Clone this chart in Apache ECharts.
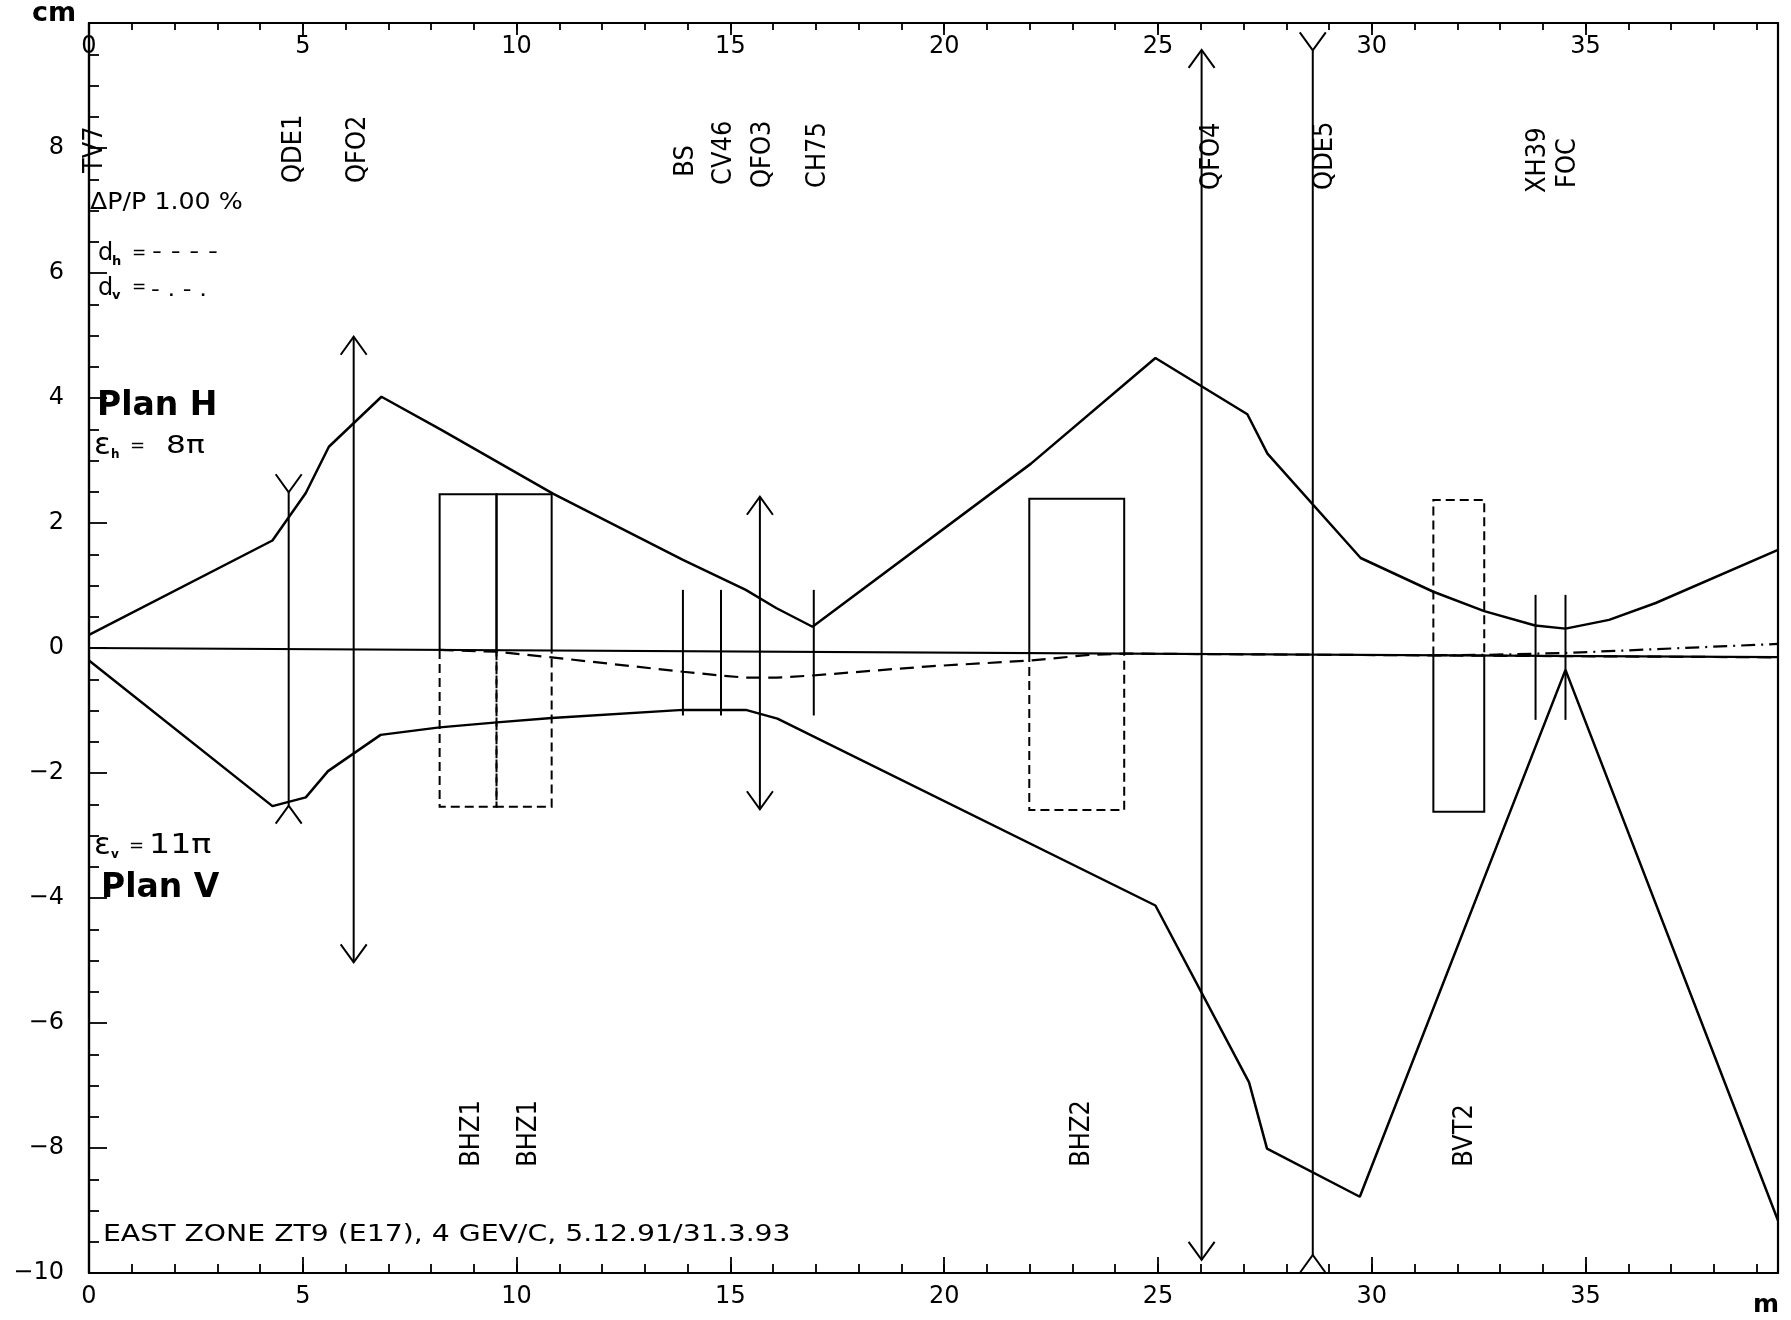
<!DOCTYPE html>
<html>
<head>
<meta charset="utf-8">
<script src="https://cdn.jsdelivr.net/npm/echarts@6/dist/echarts.min.js"></script>
<style>
html,body{margin:0;padding:0;background:#fff;}
#chart{width:1791px;height:1320px;}
</style>
</head>
<body>
<div id="chart"></div>
<script>
// ---------- data ----------
const upperEnvelope = [
  [0, 0.21], [4.29, 1.72], [5.07, 2.48], [5.61, 3.22], [6.84, 4.02], [8.24, 3.49],
  [10.85, 2.47], [13.89, 1.41], [15.36, 0.93], [16.07, 0.64], [16.92, 0.34],
  [22.03, 2.95], [24.94, 4.64], [27.09, 3.74], [27.56, 3.11], [29.74, 1.44],
  [31.44, 0.90], [32.63, 0.59], [33.82, 0.36], [34.53, 0.31], [35.55, 0.45],
  [36.64, 0.72], [39.5, 1.57]
];
const lowerEnvelope = [
  [0, -0.20], [4.29, -2.53], [5.07, -2.39], [5.59, -1.97], [6.82, -1.39], [8.2, -1.27],
  [9.54, -1.19], [10.82, -1.12], [13.89, -0.99], [15.36, -0.99], [16.1, -1.13],
  [24.94, -4.12], [27.13, -6.95], [27.55, -8.01], [29.72, -8.78], [34.53, -0.35],
  [39.5, -9.16]
];
const orbitLine = [[0, 0], [39.5, -0.145]];
const dispersionH = [
  [8.2, -0.03], [9.53, -0.06], [10.82, -0.15], [13.89, -0.38], [14.78, -0.44],
  [15.36, -0.475], [16.07, -0.475], [16.92, -0.44], [18.95, -0.33], [19.73, -0.29],
  [22.03, -0.20], [23.39, -0.11], [24.21, -0.09], [39.5, -0.15]
];
const dispersionV = [[31.44, -0.115], [32.63, -0.11], [34.53, -0.08], [39.5, 0.065]];

// quadrupoles: F = focusing (arrows), D = defocusing (forks)
const quadX      = [4.67, 6.19, 15.69, 26.02, 28.62];
const quadTop    = [2.78, 4.98, 2.42, 9.57, 9.85];
const quadBottom = [-2.81, -5.03, -2.58, -9.79, -10.0];
const quadType   = ['D', 'F', 'F', 'F', 'D'];

// thin elements (monitors / correctors)
const monitorX      = [13.89, 14.78, 16.95, 33.83, 34.53];
const monitorTop    = [0.93, 0.93, 0.93, 0.85, 0.85];
const monitorBottom = [-1.08, -1.08, -1.08, -1.15, -1.15];

// bending magnets
const bendStart  = [8.2, 9.53, 21.99, 31.44];
const bendEnd    = [9.53, 10.82, 24.21, 32.63];
const bendTop    = [2.46, 2.46, 2.39, 2.37];
const bendMid    = [-0.03, -0.05, -0.08, -0.12];
const bendBottom = [-2.54, -2.54, -2.59, -2.62];
const bendPlane  = ['H', 'H', 'H', 'V'];

// element names
const topLabels  = ['TV7', 'QDE1', 'QFO2', 'BS', 'CV46', 'QFO3', 'CH75', 'QFO4', 'QDE5', 'XH39', 'FOC'];
const topLabelX  = [0.14, 4.8, 6.3, 13.96, 14.86, 15.77, 17.06, 26.28, 28.92, 33.9, 34.6];
const topLabelY  = [7.6, 7.44, 7.44, 7.54, 7.41, 7.36, 7.36, 7.33, 7.33, 7.28, 7.36];
const bottomLabels = ['BHZ1', 'BHZ1', 'BHZ2', 'BVT2'];
const bottomLabelX = [8.97, 10.3, 23.23, 32.18];
const bottomLabelY = [-8.3, -8.3, -8.3, -8.3];

// axes
const xMin = 0, xMax = 39.5, xMajor = 5, xMinor = 1;
const yMin = -10, yMax = 10, yMajor = 2;

// ---------- chart ----------
const FONT = '"DejaVu Sans", "Liberation Sans", sans-serif';
const BLACK = '#000';
const chart = echarts.init(document.getElementById('chart'), null, {renderer: 'canvas'});

function fmtY(v) {
  if (v >= yMax) return '';
  return v < 0 ? '\u2212' + Math.abs(v) : String(v);
}
function xAxisDef(position, interval, tickLen, withLabels, inside) {
  return {
    type: 'value', position: position, min: xMin, max: xMax, interval: interval,
    axisLine: {show: false, onZero: false},
    axisTick: {show: true, inside: true, length: tickLen, lineStyle: {color: BLACK, width: 1.8}},
    axisLabel: withLabels ? {
      show: true, inside: inside, margin: inside ? 12 : 12, color: BLACK, fontSize: 24, fontFamily: FONT,
      formatter: function (v) { return (Math.abs(v % xMajor) < 1e-9) ? String(v) : ''; }
    } : {show: false},
    splitLine: {show: false}
  };
}
const lineStyleBase = {color: BLACK, width: 2.5};
const elemStyle = {stroke: BLACK, lineWidth: 2, fill: null};

function textEl(text, x, y, size, opt) {
  opt = opt || {};
  return {
    type: 'text', x: x, y: y, scaleX: opt.sx || 1, silent: true,
    style: {
      text: text, fill: BLACK,
      font: (opt.bold ? 'bold ' : '') + size + 'px ' + FONT,
      align: 'left', verticalAlign: 'middle', textAlign: 'left', textVerticalAlign: 'middle'
    }
  };
}
function rotatedLabel(names) {
  return function (params, api) {
    const pt = api.coord([api.value(0), api.value(1)]);
    return {type: 'text', x: pt[0], y: pt[1], rotation: Math.PI / 2, scaleX: 0.93,
      style: {text: names[params.dataIndex], fill: BLACK, font: '26px ' + FONT,
        align: 'left', verticalAlign: 'middle', textAlign: 'left', textVerticalAlign: 'middle'}};
  };
}

const option = {
  animation: false,
  backgroundColor: '#fff',
  textStyle: {fontFamily: FONT},
  grid: {left: 89, right: 13, top: 23, bottom: 47, show: true, borderColor: BLACK, borderWidth: 2.2, backgroundColor: 'transparent'},
  xAxis: [
    xAxisDef('bottom', xMinor, 9, false, false),
    xAxisDef('bottom', xMajor, 16, true, false),
    xAxisDef('top', xMinor, 7, false, true),
    xAxisDef('top', xMajor, 12, true, true)
  ],
  yAxis: [{
    type: 'value', position: 'left', min: yMin, max: yMax, interval: yMajor,
    axisLine: {show: true, onZero: false, lineStyle: {color: BLACK, width: 2.2}},
    axisTick: {show: true, inside: true, length: 18, lineStyle: {color: BLACK, width: 1.8}},
    minorTick: {show: true, splitNumber: 4, length: 10, lineStyle: {color: BLACK, width: 1.8}},
    axisLabel: {margin: 25, color: BLACK, fontSize: 24, fontFamily: FONT, formatter: fmtY},
    splitLine: {show: false}
  }],
  series: [
    {type: 'line', name: 'orbit', data: orbitLine, symbol: 'none', silent: true, lineStyle: {color: BLACK, width: 2.2}},
    {type: 'line', name: 'Plan H', data: upperEnvelope, symbol: 'none', silent: true, lineStyle: lineStyleBase},
    {type: 'line', name: 'Plan V', data: lowerEnvelope, symbol: 'none', silent: true, lineStyle: lineStyleBase},
    {type: 'line', name: 'dh', data: dispersionH, symbol: 'none', silent: true, lineStyle: {color: BLACK, width: 2.2, type: [14, 8]}},
    {type: 'line', name: 'dv', data: dispersionV, symbol: 'none', silent: true, lineStyle: {color: BLACK, width: 2.2, type: [14, 6, 2, 6]}},
    { // quadrupoles
      type: 'custom', silent: true,
      data: quadX.map(function (x, i) { return [x, quadTop[i], quadBottom[i]]; }),
      encode: {x: 0, y: [1, 2]},
      renderItem: function (params, api) {
        const i = params.dataIndex;
        const t = api.coord([api.value(0), api.value(1)]);
        const b = api.coord([api.value(0), api.value(2)]);
        const w = 13, h = 18;
        const ch = [];
        if (quadType[i] === 'F') {
          ch.push({type: 'line', shape: {x1: t[0], y1: t[1], x2: b[0], y2: b[1]}, style: elemStyle});
          ch.push({type: 'polyline', shape: {points: [[t[0] - w, t[1] + h], [t[0], t[1]], [t[0] + w, t[1] + h]]}, style: elemStyle});
          ch.push({type: 'polyline', shape: {points: [[b[0] - w, b[1] - h], [b[0], b[1]], [b[0] + w, b[1] - h]]}, style: elemStyle});
        } else {
          ch.push({type: 'line', shape: {x1: t[0], y1: t[1] + h, x2: b[0], y2: b[1] - h}, style: elemStyle});
          ch.push({type: 'polyline', shape: {points: [[t[0] - w, t[1]], [t[0], t[1] + h], [t[0] + w, t[1]]]}, style: elemStyle});
          ch.push({type: 'polyline', shape: {points: [[b[0] - w, b[1]], [b[0], b[1] - h], [b[0] + w, b[1]]]}, style: elemStyle});
        }
        return {type: 'group', children: ch};
      }
    },
    { // monitors / correctors
      type: 'custom', silent: true,
      data: monitorX.map(function (x, i) { return [x, monitorTop[i], monitorBottom[i]]; }),
      encode: {x: 0, y: [1, 2]},
      renderItem: function (params, api) {
        const t = api.coord([api.value(0), api.value(1)]);
        const b = api.coord([api.value(0), api.value(2)]);
        return {type: 'line', shape: {x1: t[0], y1: t[1], x2: b[0], y2: b[1]}, style: elemStyle};
      }
    },
    { // bending magnets
      type: 'custom', silent: true,
      data: bendStart.map(function (x, i) { return [x, bendTop[i], bendBottom[i]]; }),
      encode: {x: 0, y: [1, 2]},
      renderItem: function (params, api) {
        const i = params.dataIndex;
        const x0 = bendStart[i], x1 = bendEnd[i];
        const p = function (x, y) { return api.coord([x, y]); };
        const up = [p(x0, bendMid[i]), p(x0, bendTop[i]), p(x1, bendTop[i]), p(x1, bendMid[i])];
        const dn = [p(x0, bendMid[i]), p(x0, bendBottom[i]), p(x1, bendBottom[i]), p(x1, bendMid[i])];
        const solid = {stroke: BLACK, lineWidth: 2, fill: null};
        const dashed = {stroke: BLACK, lineWidth: 2, fill: null, lineDash: [9, 5]};
        const isH = bendPlane[i] === 'H';
        return {type: 'group', children: [
          {type: 'polyline', shape: {points: up}, style: isH ? solid : dashed},
          {type: 'polyline', shape: {points: dn}, style: isH ? dashed : solid}
        ]};
      }
    },
    { // element names (top)
      type: 'custom', silent: true,
      data: topLabelX.map(function (x, i) { return [x, topLabelY[i]]; }),
      encode: {x: 0, y: 1},
      renderItem: rotatedLabel(topLabels)
    },
    { // element names (bottom)
      type: 'custom', silent: true,
      data: bottomLabelX.map(function (x, i) { return [x, bottomLabelY[i]]; }),
      encode: {x: 0, y: 1},
      renderItem: rotatedLabel(bottomLabels)
    }
  ],
  graphic: [
    textEl('cm', 32, 14, 27, {bold: true}),
    textEl('m', 1753, 1305, 25, {bold: true}),
    textEl('\u0394P/P 1.00 %', 90, 203.5, 23, {sx: 1.1}),
    textEl('d', 98, 254, 24),
    textEl('h', 112, 261.5, 13, {bold: true}),
    textEl('=', 132, 254, 17),
    textEl('- - - -', 152, 252, 22, {sx: 1.25}),
    textEl('d', 98, 289, 24),
    textEl('v', 112, 296, 13, {bold: true}),
    textEl('=', 132, 288, 17),
    textEl('- . - .', 151, 290, 22, {sx: 1.1}),
    textEl('Plan H', 97, 406, 33, {bold: true}),
    textEl('\u03b5', 94, 446, 31),
    textEl('h', 111, 455, 12, {bold: true}),
    textEl('=', 130, 446, 18),
    textEl('8\u03c0', 166, 446.5, 25, {sx: 1.25}),
    textEl('\u03b5', 94, 846, 31),
    textEl('v', 111, 855, 12, {bold: true}),
    textEl('=', 129, 846, 18),
    textEl('11\u03c0', 149, 846.5, 26, {sx: 1.28}),
    textEl('Plan V', 101, 888, 33, {bold: true}),
    textEl('EAST ZONE ZT9 (E17), 4 GEV/C, 5.12.91/31.3.93', 103, 1235, 23, {sx: 1.23})
  ]
};
chart.setOption(option);
</script>
</body>
</html>
